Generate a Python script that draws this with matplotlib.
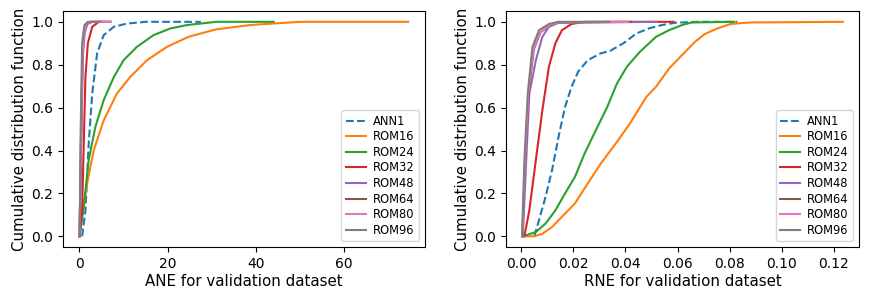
import matplotlib
matplotlib.use("Agg")
import matplotlib.pyplot as plt

labels = ["ANN1", "ROM16", "ROM24", "ROM32", "ROM48", "ROM64", "ROM80", "ROM96"]

# ANE curves (x values, cumulative fraction)
ane_x = {
    "ANN1": [0.6, 1.36, 2.1, 2.9, 4.0, 5.5, 7.8, 10.8, 15, 27.5],
    "ROM16": [0, 0.6, 1.74, 3.24, 5.5, 8.5, 11.5, 15.3, 19.8, 24.7, 31, 38.7, 50, 74.5],
    "ROM24": [0, 0.97, 2.1, 3.6, 5.5, 7.8, 10, 13, 16.8, 20.6, 24.4, 31, 44],
    "ROM32": [0, 0.6, 0.98, 1.36, 1.9, 2.9, 4.4, 7.0],
    "ROM48": [0, 0.3, 0.55, 0.8, 1.2, 1.8, 3.0, 7.0],
    "ROM64": [0, 0.25, 0.5, 0.7, 1.0, 1.5, 2.5, 5.5],
    "ROM80": [0, 0.25, 0.45, 0.7, 1.0, 1.5, 2.5, 7.0],
    "ROM96": [0, 0.07, 0.23, 0.6, 1.13, 1.9, 4.5],
}
ane_y = {
    "ANN1": [0, 0.12, 0.433, 0.666, 0.853, 0.938, 0.977, 0.992, 1.0, 1.0],
    "ROM16": [0, 0.09, 0.246, 0.401, 0.541, 0.666, 0.743, 0.821, 0.883, 0.93, 0.965, 0.985, 1.0, 1.0],
    "ROM24": [0, 0.137, 0.355, 0.51, 0.635, 0.743, 0.821, 0.883, 0.938, 0.969, 0.985, 1.0, 1.0],
    "ROM32": [0, 0.12, 0.433, 0.743, 0.9, 0.977, 1.0, 1.0],
    "ROM48": [0, 0.3, 0.6, 0.85, 0.95, 0.99, 1.0, 1.0],
    "ROM64": [0, 0.3, 0.6, 0.85, 0.95, 0.99, 1.0, 1.0],
    "ROM80": [0, 0.3, 0.6, 0.85, 0.95, 0.99, 1.0, 1.0],
    "ROM96": [0, 0.0, 0.433, 0.9, 0.985, 1.0, 1.0],
}

# RNE curves
rne_x = {
    "ANN1": [0.005, 0.0068, 0.0093, 0.0118, 0.0143, 0.0168, 0.0193, 0.0218, 0.0255, 0.0305,
             0.0342, 0.0392, 0.0442, 0.0492, 0.054, 0.0592, 0.068, 0.0829],
    "ROM16": [0.0006, 0.005, 0.0081, 0.0118, 0.0168, 0.0206, 0.0255, 0.0305, 0.0367, 0.0417,
              0.048, 0.0517, 0.0567, 0.0617, 0.0667, 0.0704, 0.0754, 0.0804, 0.0878, 0.1234],
    "ROM24": [0.0006, 0.0056, 0.0093, 0.0131, 0.0168, 0.0206, 0.0243, 0.028, 0.033, 0.0367,
              0.0405, 0.0455, 0.0517, 0.0567, 0.0617, 0.0654, 0.0816],
    "ROM32": [0.0012, 0.0031, 0.0056, 0.0081, 0.0106, 0.0131, 0.0156, 0.0193, 0.0243, 0.0585],
    "ROM48": [0.0006, 0.0019, 0.0031, 0.0056, 0.0081, 0.0106, 0.0143, 0.052],
    "ROM64": [0.0004, 0.0015, 0.0028, 0.0048, 0.0073, 0.0110, 0.0143, 0.042],
    "ROM80": [0.0004, 0.0014, 0.0027, 0.0046, 0.0072, 0.0108, 0.0143, 0.041],
    "ROM96": [0.0003, 0.0012, 0.0025, 0.0043, 0.0068, 0.0106, 0.0143, 0.0338],
}
rne_y = {
    "ANN1": [0, 0.075, 0.183, 0.308, 0.463, 0.603, 0.697, 0.767, 0.821, 0.853,
             0.865, 0.9, 0.946, 0.97, 0.985, 0.996, 1.0, 1.0],
    "ROM16": [0, 0, 0.012, 0.043, 0.106, 0.153, 0.246, 0.339, 0.44, 0.526,
              0.65, 0.697, 0.782, 0.845, 0.907, 0.943, 0.97, 0.99, 0.997, 1.0],
    "ROM24": [0, 0.02, 0.059, 0.121, 0.2, 0.277, 0.386, 0.479, 0.603, 0.712,
              0.79, 0.86, 0.93, 0.961, 0.985, 0.997, 1.0],
    "ROM32": [0, 0.121, 0.355, 0.588, 0.79, 0.9, 0.961, 0.99, 1.0, 1.0],
    "ROM48": [0, 0.355, 0.666, 0.821, 0.93, 0.977, 0.995, 1.0],
    "ROM64": [0, 0.355, 0.666, 0.87, 0.95, 0.985, 0.998, 1.0],
    "ROM80": [0, 0.355, 0.666, 0.87, 0.95, 0.985, 0.998, 1.0],
    "ROM96": [0, 0.355, 0.666, 0.883, 0.961, 0.99, 1.0, 1.0],
}

fig = plt.figure(figsize=(8.8, 2.96), dpi=100)
ax1 = fig.add_axes([0.0716, 0.1655, 0.411, 0.797])
ax2 = fig.add_axes([0.575, 0.1655, 0.401, 0.797])

for ax, xs, ys, xlabel in [(ax1, ane_x, ane_y, "ANE for validation dataset"),
                           (ax2, rne_x, rne_y, "RNE for validation dataset")]:
    for name in labels:
        style = "--" if name == "ANN1" else "-"
        ax.plot(xs[name], ys[name], style, lw=1.5, label=name)
    ax.set_xlabel(xlabel, fontsize=10.8, labelpad=2)
    ax.set_ylabel("Cumulative distribution function", fontsize=10.8, labelpad=3)
    ax.tick_params(labelsize=10)
    ax.set_yticks([0.0, 0.2, 0.4, 0.6, 0.8, 1.0])
    ax.legend(loc="lower right", fontsize=8.3, handlelength=1.7, handletextpad=0.6,
              labelspacing=0.22, borderpad=0.4)

ax1.set_xticks([0, 20, 40, 60])
ax2.set_xticks([0.0, 0.02, 0.04, 0.06, 0.08, 0.10, 0.12])

fig.savefig("out.png", dpi=100)
